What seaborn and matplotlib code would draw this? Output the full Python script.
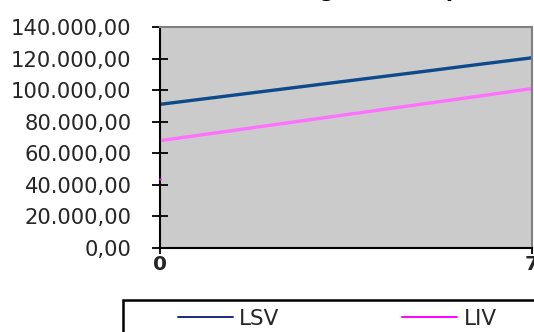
import matplotlib
matplotlib.use("Agg")
import matplotlib.pyplot as plt
from matplotlib.patches import Rectangle
from matplotlib.ticker import FuncFormatter
import pandas as pd
import seaborn as sns

# Control limits per period
periodos = [0, 1, 2, 3, 4, 5, 6, 7]
lsv = [91000, 95200, 99400, 103600, 107800, 112000, 116300, 120500]
liv = [68000, 72700, 77400, 82100, 86800, 91500, 96200, 101000]
punto_inicial = [44000]
series = ["LSV", "LIV"]
colores = {"LSV": "#0d4a8a", "LIV": "#ff70ff"}
titulo = "Rango de tiempo"
y_ticks = [0, 20000, 40000, 60000, 80000, 100000, 120000, 140000]
x_ticks = [0, 7]

df = pd.DataFrame({
    "periodo": periodos * 2,
    "valor": lsv + liv,
    "serie": [series[0]] * len(lsv) + [series[1]] * len(liv),
})

sns.set_theme(style="white")
plt.rcParams["font.family"] = ["DejaVu Sans"]

W, H = 534, 332
fig = plt.figure(figsize=(W / 100, H / 100), dpi=100)
ax = fig.add_axes([160 / W, 1 - 248 / H, (532 - 160) / W, (248 - 27) / H])
ax.set_facecolor("#cbcbcb")

sns.lineplot(data=df, x="periodo", y="valor", hue="serie", hue_order=series,
             palette=colores, linewidth=2.4, ax=ax, legend=True)
ax.scatter([periodos[0]], punto_inicial, s=3, color="#ff00ff", zorder=5,
           clip_on=False, linewidths=0)

ax.set_xlim(0, 7)
ax.set_ylim(0, 140000)
ax.set_yticks(y_ticks)
ax.set_xticks(x_ticks)
ax.yaxis.set_major_formatter(FuncFormatter(
    lambda v, _: f"{v:,.2f}".replace(",", "X").replace(".", ",").replace("X", ".")))
ax.set_xlabel("")
ax.set_ylabel("")

for s in ["left", "bottom"]:
    ax.spines[s].set_color("black")
    ax.spines[s].set_linewidth(1.5)
for s in ["top", "right"]:
    ax.spines[s].set_color("#808080")
    ax.spines[s].set_linewidth(1.5)

ax.tick_params(axis="y", direction="inout", length=11, width=1.3, color="black",
               labelsize=15.2, pad=15, left=True)
ax.tick_params(axis="x", direction="out", length=4, width=1.3, color="black",
               labelsize=14.5, pad=1, bottom=True)
for lbl in ax.get_xticklabels():
    lbl.set_fontweight("bold")

# Legend row below the plot, inside a box
handles, labels = ax.get_legend_handles_labels()
ax.get_legend().remove()
leg = fig.legend(handles, labels, ncol=2, frameon=False,
                 loc="center left", bbox_to_anchor=(178 / W, 1 - 319 / H),
                 fontsize=15.5, handlelength=2.55, handletextpad=0.3,
                 columnspacing=5.7, borderpad=0, borderaxespad=0)
for ln in leg.get_lines():
    ln.set_linewidth(1.4)
leg_colors = {"LSV": "#1a2a80", "LIV": "#ff00ff"}
for ln, lab in zip(leg.get_lines(), labels):
    ln.set_color(leg_colors[lab])

fig.add_artist(Rectangle((123 / W, -0.2), 1.0, (1 - 300 / H) + 0.2,
                         transform=fig.transFigure, fill=False,
                         edgecolor="black", linewidth=1.8))

fig.text(375 / W, 1 + 2.6 / H, titulo, ha="center", va="baseline",
         fontsize=15, fontweight="bold", color="black")

fig.savefig("out.png", dpi=100)
